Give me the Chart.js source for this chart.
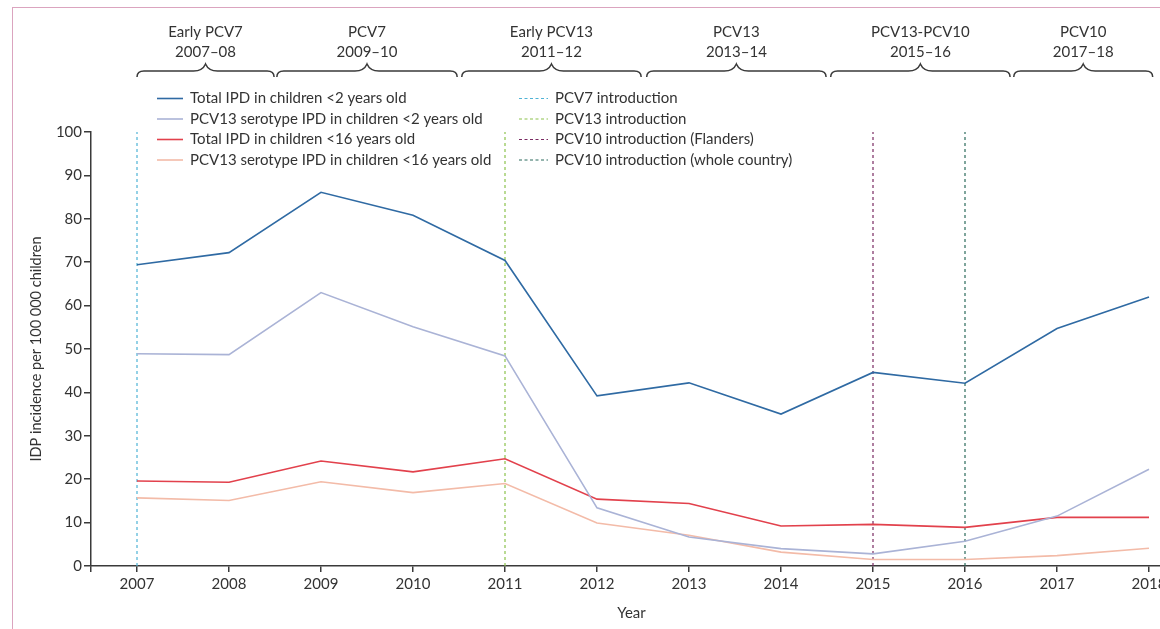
<!DOCTYPE html>
<html><head><meta charset="utf-8">
<script src="https://cdn.jsdelivr.net/npm/chart.js@4"></script>
<style>
html,body{margin:0;padding:0;overflow:hidden;background:#fff;width:1160px;height:629px}
#frame{position:absolute;left:12px;top:7px;width:1300px;height:800px;border-left:1.5px solid #dba4bf;border-top:1.5px solid #dba4bf}
#wrap{position:absolute;left:0;top:0;width:1172px;height:629px}
</style></head>
<body>
<div id="frame"></div>
<div id="wrap"><canvas id="c"></canvas></div>
<script>
const years = [2007,2008,2009,2010,2011,2012,2013,2014,2015,2016,2017,2018];
const totalUnder2   = [69.4,72.2,86.1,80.8,70.4,39.2,42.2,35.0,44.6,42.1,54.7,62.0];
const pcv13Under2   = [48.9,48.7,63.0,55.1,48.4,13.4,6.7,4.0,2.8,5.7,11.5,22.3];
const totalUnder16  = [19.6,19.3,24.2,21.7,24.7,15.4,14.4,9.2,9.6,8.9,11.2,11.2];
const pcv13Under16  = [15.7,15.1,19.4,16.9,19.0,9.9,7.1,3.2,1.5,1.5,2.4,4.1];
const seriesLabels  = ['Total IPD in children <2 years old','PCV13 serotype IPD in children <2 years old','Total IPD in children <16 years old','PCV13 serotype IPD in children <16 years old'];
const introYears    = [2007,2011,2015,2016];
const introLabels   = ['PCV7 introduction','PCV13 introduction','PCV10 introduction (Flanders)','PCV10 introduction (whole country)'];
const periodNames   = ['Early PCV7','PCV7','Early PCV13','PCV13','PCV13-PCV10','PCV10'];
const periodYears   = ['2007–08','2009–10','2011–12','2013–14','2015–16','2017–18'];
const periodStart   = [2007,2008.52,2010.53,2012.54,2014.54,2016.53];
const periodEnd     = [2008.49,2010.48,2012.48,2014.49,2016.49,2018.04];
const yTicks        = [0,10,20,30,40,50,60,70,80,90,100];
const xTicks        = [2006.5].concat(years);

const seriesColors = ['#2f6aa3','#aab3d6','#e2414c','#f3bba8'];
const introColors  = ['#4fb3d6','#8cc24c','#7a2a62','#2b6a5c'];
const FONT = 'Lato';
const TXT = '#333';

const pts = arr => years.map((y,i)=>({x:y,y:arr[i]}));
const datasets = [totalUnder2,pcv13Under2,totalUnder16,pcv13Under16].map((a,i)=>({
  label: seriesLabels[i], data: pts(a), borderColor: seriesColors[i], backgroundColor: seriesColors[i],
  borderWidth: 1.6, pointRadius: 0, tension: 0, order: 1
}));
introYears.forEach((yr,i)=>datasets.push({
  label: introLabels[i], data:[{x:yr,y:0},{x:yr,y:100}], borderColor:introColors[i], backgroundColor:introColors[i],
  borderWidth:1.2, borderDash:[3,3], pointRadius:0, order: 2
}));

const overlay = {
  id:'overlay',
  afterDraw(chart){
    const ctx = chart.ctx, xs = chart.scales.x;
    ctx.save();
    // legend
    ctx.font = '15px ' + FONT; ctx.textBaseline = 'middle'; ctx.fillStyle = TXT;
    const rowY = [98.5,119,139.5,160];
    chart.data.datasets.forEach((ds,i)=>{
      const col = i<4?0:1, r = i%4;
      const lx = col? 519:157, tx = col? 555:190, y = rowY[r];
      ctx.beginPath(); ctx.strokeStyle = ds.borderColor; ctx.lineWidth = col?1.2:1.6;
      ctx.setLineDash(col?[3,2.5]:[]);
      ctx.moveTo(lx,y); ctx.lineTo(lx+(col?29:26),y); ctx.stroke();
      ctx.setLineDash([]);
      ctx.fillStyle = TXT; ctx.textAlign='left'; ctx.fillText(ds.label, tx, y);
    });
    // period braces
    const yb = 71;
    ctx.strokeStyle = '#3a3a3a'; ctx.lineWidth = 1.5;
    periodNames.forEach((n,i)=>{
      const x0 = xs.getPixelForValue(periodStart[i]), x1 = xs.getPixelForValue(periodEnd[i]);
      const c = (x0+x1)/2;
      ctx.beginPath();
      ctx.moveTo(x0, yb+6);
      ctx.quadraticCurveTo(x0, yb, x0+7, yb);
      ctx.lineTo(c-12, yb);
      ctx.quadraticCurveTo(c-3, yb, c, yb-7);
      ctx.quadraticCurveTo(c+3, yb, c+12, yb);
      ctx.lineTo(x1-7, yb);
      ctx.quadraticCurveTo(x1, yb, x1, yb+6);
      ctx.stroke();
      ctx.font = '15px ' + FONT; ctx.textAlign='center'; ctx.fillStyle = TXT;
      ctx.fillText(n, c, 32);
      ctx.fillText(periodYears[i], c, 52);
    });
    ctx.restore();
  }
};

new Chart(document.getElementById('c'), {
  type:'line',
  data:{datasets},
  options:{
    responsive:true, maintainAspectRatio:false, animation:false,
    layout:{padding:{top:132,left:0,right:0,bottom:0}},
    plugins:{legend:{display:false}, tooltip:{enabled:false}},
    scales:{
      x:{type:'linear', min:2006.5, max:2018.25,
        afterBuildTicks(s){ s.ticks = xTicks.map(v=>({value:v})); },
        afterFit(s){ s.height = 63; },
        ticks:{color:TXT, font:{family:FONT,size:15}, padding:3, maxRotation:0, autoSkip:false,
          callback:v=> (v===2006.5?'':String(v))},
        grid:{display:true, drawOnChartArea:false, drawTicks:true, tickLength:6, color:'#3a3a3a', lineWidth:1.5},
        border:{display:true, color:'#3a3a3a', width:1.5},
        title:{display:true, text:'Year', color:TXT, font:{family:FONT,size:15}, padding:{top:4,bottom:7}}
      },
      y:{min:0, max:100,
        afterBuildTicks(s){ s.ticks = yTicks.map(v=>({value:v})); },
        afterFit(s){ s.width = 91; },
        ticks:{color:TXT, font:{family:FONT,size:15}, padding:2},
        grid:{display:true, drawOnChartArea:false, drawTicks:true, tickLength:7, color:'#3a3a3a', lineWidth:1.5},
        border:{display:true, color:'#3a3a3a', width:1.5},
        title:{display:true, text:'IDP incidence per 100 000 children', color:TXT, font:{family:FONT,size:14.5}, padding:{top:28,bottom:0}}
      }
    }
  },
  plugins:[overlay]
});
</script>
</body></html>
